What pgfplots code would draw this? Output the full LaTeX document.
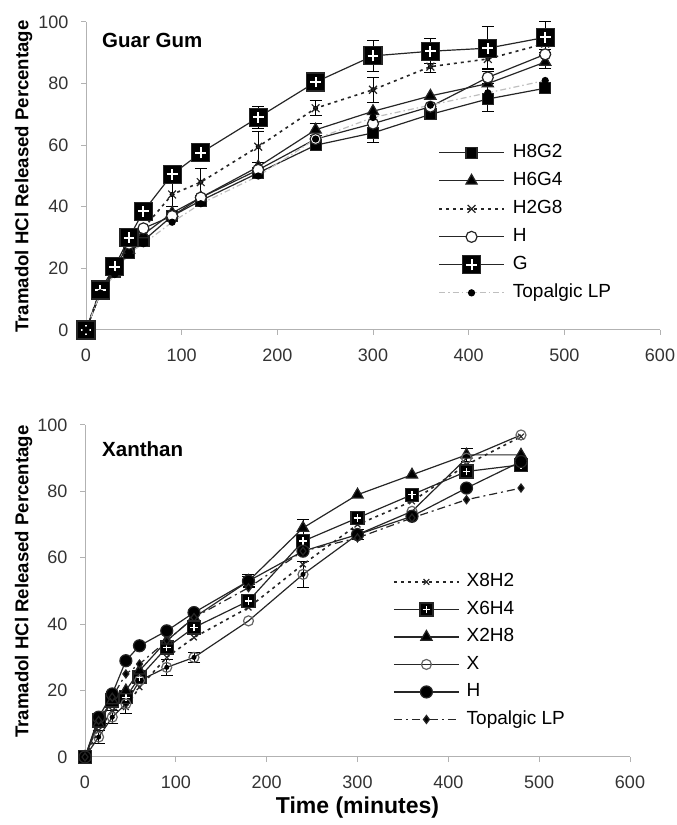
\documentclass[border=0pt]{standalone}
\usepackage{fontspec}
\setmainfont{Liberation Sans}
\usepackage{pgfplots}
\pgfplotsset{compat=1.18}

\pgfdeclareplotmark{sqplus}{%
  \pgfpathrectangle{\pgfqpoint{-\pgfplotmarksize}{-\pgfplotmarksize}}{\pgfqpoint{2\pgfplotmarksize}{2\pgfplotmarksize}}%
  \pgfusepathqfillstroke
  \begin{pgfscope}
  \pgfsetstrokecolor{white}\pgfsetlinewidth{0.22\pgfplotmarksize}%
  \pgfsetbuttcap
  \pgfpathmoveto{\pgfqpoint{-0.6\pgfplotmarksize}{0pt}}\pgfpathlineto{\pgfqpoint{0.6\pgfplotmarksize}{0pt}}%
  \pgfpathmoveto{\pgfqpoint{0pt}{-0.6\pgfplotmarksize}}\pgfpathlineto{\pgfqpoint{0pt}{0.6\pgfplotmarksize}}%
  \pgfusepathqstroke
  \end{pgfscope}
}

\tikzset{
  ser/.style={line width=1.2pt, color=black!85},
}
\pgfplotsset{
  myaxis/.style={
    anchor=south west, scale only axis,
    xmin=0, xmax=600, ymin=0, ymax=100,
    xtick={0,100,...,600}, ytick={0,20,...,100},
    axis x line*=bottom, axis y line*=left,
    axis line style={gray!60, line width=1pt, -},
    tick style={gray!60, line width=1pt},
    tick align=outside, major tick length=5pt,
    ticklabel style={font=\fontsize{18}{20}\selectfont, text=black!80},
    yticklabel style={xshift=-9pt},
    xticklabel style={yshift=-10pt},
    /pgf/number format/assume math mode=true,
    clip=false,
    legend cell align=left,
    legend image code/.code={\draw[mark repeat=2,mark phase=2,##1] plot coordinates {(0pt,0pt) (32.5pt,0pt) (65pt,0pt)};},
    errb/.style={forget plot, only marks, mark=none, black, line width=1pt,
      error bars/.cd, y dir=both, y explicit,
      error bar style={black, line width=1pt},
      error mark options={black, mark size=6pt, line width=1pt, rotate=90}},
  }
}

\begin{document}
\begin{tikzpicture}
\path[use as bounding box] (0,0) rectangle (677pt,825pt);

% ---------------- Top: Guar Gum ----------------
\begin{axis}[myaxis, at={(86pt,495pt)}, width=574pt, height=308pt,
  legend style={draw=none, fill=none, at={(axis cs:368,60.5)}, anchor=north west,
    inner sep=0pt, row sep=10pt, font=\fontsize{19}{22}\selectfont,
    nodes={inner sep=0pt, text height=14pt, text depth=4pt},
    /tikz/every odd column/.append style={column sep=8pt}}]

% error bars
\addplot[errb] coordinates {(30,20.5) +- (0,2) (45,30) +- (0,2.5) (60,38.5) +- (0,2) (90,50.5) +- (0,3) (120,57.5) +- (0,2) (180,69) +- (0,3.5) (240,80.5) +- (0,2) (300,89) +- (0,5) (360,90.5) +- (0,4) (420,91.5) +- (0,7) (480,95) +- (0,5)};
\addplot[errb] coordinates {(90,44) +- (0,4) (120,48) +- (0,4.5) (180,59.5) +- (0,5) (240,72) +- (0,2.5) (300,78) +- (0,4) (360,85.5) +- (0,2) (420,88) +- (0,3) (480,93) +- (0,2)};
\addplot[errb] coordinates {(300,64) +- (0,3) (360,70) +- (0,1.5) (420,75) +- (0,4)};
\addplot[errb] coordinates {(240,65) +- (0,2) (480,87) +- (0,2)};
\addplot[errb] coordinates {(420,82) +- (0,2)};

\addplot[ser, mark=square*, mark size=5.5pt, mark options={solid, fill=black}] coordinates {
 (0,0) (15,12) (30,19) (45,25) (60,29) (90,37) (120,42) (180,51) (240,60) (300,64) (360,70) (420,75) (480,78.5)};
\addlegendentry{H8G2}
\addplot[ser, mark=triangle*, mark size=6.5pt, mark options={solid, fill=black}] coordinates {
 (0,0) (15,12) (30,19) (45,26) (60,31) (90,38) (120,43) (180,53) (240,65) (300,71) (360,76) (420,80) (480,87)};
\addlegendentry{H6G4}
\addplot[ser, line width=1.6pt, dash pattern=on 3pt off 4pt, mark=x, mark size=5.5pt, mark options={solid, line width=1.2pt}] coordinates {
 (0,0) (15,13) (30,20) (45,28) (60,33) (90,44) (120,48) (180,59.5) (240,72) (300,78) (360,85.5) (420,88) (480,93)};
\addlegendentry{H2G8}
\addplot[ser, mark=*, mark size=5.5pt, mark options={solid, fill=white, line width=1.2pt}] coordinates {
 (0,0) (15,12) (30,20) (45,28) (60,33) (90,37) (120,43) (180,52) (240,62) (300,67) (360,72.5) (420,82) (480,89.5)};
\addlegendentry{H}
\addplot[ser, mark=sqplus, mark size=9pt, mark options={solid, fill=black}] coordinates {
 (0,0) (15,13) (30,20.5) (45,30) (60,38.5) (90,50.5) (120,57.5) (180,69) (240,80.5) (300,89) (360,90.5) (420,91.5) (480,95)};
\addlegendentry{G}
\addplot[line width=1.2pt, gray!50, dash pattern=on 6pt off 3pt on 1.5pt off 3pt, mark=*, mark size=3pt, mark options={solid, black, fill=black}] coordinates {
 (0,0) (15,12) (30,18) (45,25) (60,28) (90,35) (120,41) (180,50) (240,62) (300,69) (360,73) (420,77) (480,81)};
\addlegendentry{Topalgic LP}
\end{axis}

% ---------------- Bottom: Xanthan ----------------
\begin{axis}[myaxis, at={(85pt,68pt)}, width=545pt, height=332pt,
  legend style={draw=none, fill=none, at={(axis cs:339,55.5)}, anchor=north west,
    inner sep=0pt, row sep=9.5pt, font=\fontsize{19}{22}\selectfont,
    nodes={inner sep=0pt, text height=14pt, text depth=4pt},
    /tikz/every odd column/.append style={column sep=7pt}}]

\addplot[errb] coordinates {(15,6) +- (0,2) (30,12) +- (0,2) (45,16) +- (0,3) (90,27) +- (0,2.5) (120,30) +- (0,1.5) (240,55) +- (0,4) (300,67) +- (0,1.5)};
\addplot[errb] coordinates {(180,53) +- (0,2) (240,69) +- (0,2.5) (420,91) +- (0,2)};
\addplot[errb] coordinates {(240,65) +- (0,2) (360,79) +- (0,2) (420,86) +- (0,2) (480,88) +- (0,2)};
\addplot[errb] coordinates {(180,53) +- (0,1.5)};

\addplot[ser, line width=1.6pt, dash pattern=on 3pt off 4pt, mark=x, mark size=4pt, mark options={solid, line width=1.2pt}] coordinates {
 (0,0) (15,8) (30,14) (45,15) (60,21) (90,30) (120,36) (180,45) (240,58) (300,70) (360,77) (420,88) (480,96.5)};
\addlegendentry{X8H2}
\addplot[ser, mark=sqplus, mark size=6.5pt, mark options={solid, fill=black}] coordinates {
 (0,0) (15,11) (30,17) (45,18) (60,24) (90,33) (120,39) (180,47) (240,65) (300,72) (360,79) (420,86) (480,88)};
\addlegendentry{X6H4}
\addplot[ser, mark=triangle*, mark size=6.5pt, mark options={solid, fill=black}] coordinates {
 (0,0) (15,10) (30,17) (45,20) (60,26) (90,35) (120,42) (180,53) (240,69) (300,79) (360,85) (420,91) (480,91)};
\addlegendentry{X2H8}
\addplot[ser, mark=o, mark size=5pt, mark options={solid, draw=black!60, line width=1.2pt}] coordinates {
 (0,0) (15,6) (30,12) (45,16) (60,23) (90,27) (120,30) (180,41) (240,55) (300,67) (360,74) (420,90) (480,97)};
\addlegendentry{X}
\addplot[ser, mark=*, mark size=6pt, mark options={solid, fill=black}] coordinates {
 (0,0) (15,12) (30,19) (45,29) (60,33.5) (90,38) (120,43.5) (180,53) (240,62) (300,67) (360,72.5) (420,81) (480,89)};
\addlegendentry{H}
\addplot[ser, dash pattern=on 8pt off 4pt on 2pt off 4pt, mark=diamond*, mark size=4pt, mark options={solid, fill=black}] coordinates {
 (0,0) (15,11) (30,18) (45,25) (60,28) (90,35) (120,42) (180,51) (240,62) (300,66) (360,72) (420,77.5) (480,81)};
\addlegendentry{Topalgic LP}
\end{axis}

% labels
\node[rotate=90, inner sep=0pt, font=\bfseries\fontsize{18.6}{21}\selectfont] at (23.5pt,648.5pt) {Tramadol HCl Released Percentage};
\node[rotate=90, inner sep=0pt, font=\bfseries\fontsize{18.6}{21}\selectfont] at (23.5pt,243.5pt) {Tramadol HCl Released Percentage};
\node[inner sep=0pt, font=\bfseries\fontsize{23}{26}\selectfont] at (357.5pt,17pt) {Time (minutes)};
\node[anchor=base west, inner sep=0pt, font=\bfseries\fontsize{20.5}{24}\selectfont] at (102pt,777pt) {Guar Gum};
\node[anchor=base west, inner sep=0pt, font=\bfseries\fontsize{20.5}{24}\selectfont] at (102pt,368pt) {Xanthan};
\end{tikzpicture}
\end{document}
